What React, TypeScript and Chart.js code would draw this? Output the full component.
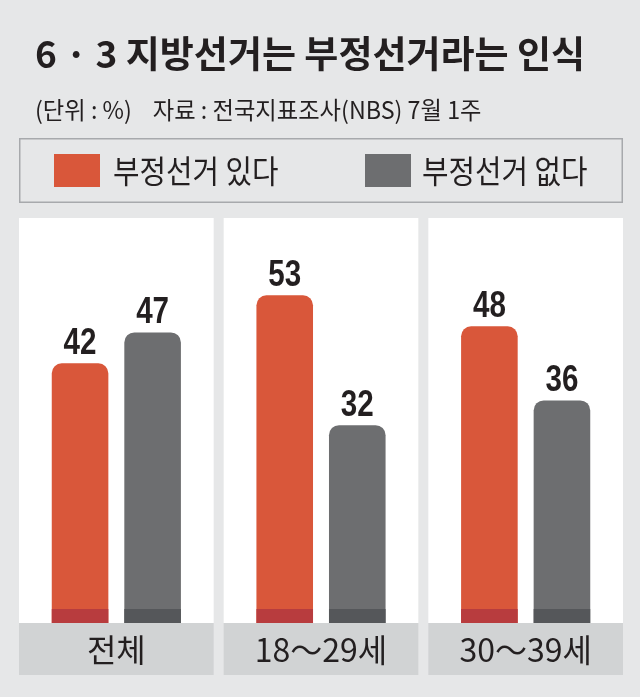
import React, { useEffect, useRef } from "react";
import { Chart, registerables } from "chart.js";

Chart.register(...registerables);

const TITLE = "6 · 3 지방선거는 부정선거라는 인식";
const SUBTITLE = "(단위 : %)    자료 : 전국지표조사(NBS) 7월 1주";
const categories = ["전체", "18～29세", "30～39세"];
const seriesNames = ["부정선거 있다", "부정선거 없다"];
const yesValues = [42, 53, 48];
const noValues = [47, 32, 36];

const BG = "#e6e7e8";
const TEXT = "#231f20";
const barColors = ["#d9573a", "#6d6e70"];
const barBaseColors = ["#b83c3e", "#55575a"];
const FONT_KR = '"Noto Sans CJK KR", "Noto Sans", sans-serif';

const decorPlugin = {
  id: "decor",
  beforeDraw(chart: any) {
    const { ctx, chartArea, scales } = chart;
    const x = scales.x;
    ctx.save();
    ctx.fillStyle = BG;
    ctx.fillRect(0, 0, chart.width, chart.height);
    const n = chart.data.labels.length;
    const catW = (chartArea.right - chartArea.left) / n;
    for (let i = 0; i < n; i++) {
      const cx = x.getPixelForValue(i);
      const l = cx - catW / 2 + 5;
      const w = catW - 10;
      ctx.fillStyle = "#ffffff";
      ctx.fillRect(l, chartArea.top, w, chartArea.bottom - chartArea.top);
      ctx.fillStyle = "#d1d3d4";
      ctx.fillRect(l, chartArea.bottom, w, x.bottom - chartArea.bottom);
    }
    // legend box
    const lx = chartArea.left + 5;
    const lw = chartArea.right - chartArea.left - 10;
    ctx.strokeStyle = "#a7a9ac";
    ctx.lineWidth = 1.5;
    ctx.strokeRect(lx + 0.75, 138.75, lw - 1.5, 63.5);
    const items = [
      { box: 54, text: 113 },
      { box: 365, text: 422 },
    ];
    chart.data.datasets.forEach((ds: any, i: number) => {
      const it = items[i];
      ctx.fillStyle = ds.backgroundColor;
      ctx.fillRect(it.box, 154, 46, 33);
      ctx.save();
      ctx.translate(it.text, 183);
      ctx.scale(0.9, 1);
      ctx.fillStyle = TEXT;
      ctx.font = `32px ${FONT_KR}`;
      ctx.textBaseline = "alphabetic";
      ctx.textAlign = "left";
      ctx.fillText(ds.label, 0, 0);
      ctx.restore();
    });
    ctx.restore();
  },
  afterDatasetsDraw(chart: any) {
    const { ctx } = chart;
    ctx.save();
    chart.data.datasets.forEach((ds: any, di: number) => {
      const meta = chart.getDatasetMeta(di);
      meta.data.forEach((bar: any, i: number) => {
        const p = bar.getProps(["x", "y", "base", "width"], true);
        ctx.fillStyle = barBaseColors[di];
        ctx.fillRect(p.x - p.width / 2, p.base - 14, p.width, 14);
        ctx.save();
        ctx.translate(p.x, p.y - 9);
        ctx.scale(0.8, 1);
        ctx.fillStyle = TEXT;
        ctx.font = `bold 37px "Liberation Sans", Arial, sans-serif`;
        ctx.textAlign = "center";
        ctx.textBaseline = "alphabetic";
        ctx.fillText(String(ds.data[i]), 0, 0);
        ctx.restore();
      });
    });
    ctx.restore();
  },
};

export default function App() {
  const ref = useRef<HTMLCanvasElement>(null);
  useEffect(() => {
    if (!ref.current) return;
    const chart = new Chart(ref.current, {
      type: "bar",
      data: {
        labels: categories,
        datasets: [
          {
            label: seriesNames[0],
            data: yesValues,
            backgroundColor: barColors[0],
            borderRadius: { topLeft: 10, topRight: 10, bottomLeft: 0, bottomRight: 0 },
            borderSkipped: false,
            categoryPercentage: 0.709,
            barPercentage: 0.78,
          },
          {
            label: seriesNames[1],
            data: noValues,
            backgroundColor: barColors[1],
            borderRadius: { topLeft: 10, topRight: 10, bottomLeft: 0, bottomRight: 0 },
            borderSkipped: false,
            categoryPercentage: 0.709,
            barPercentage: 0.78,
          },
        ],
      },
      options: {
        responsive: false,
        animation: false,
        layout: { padding: { top: 218, left: 14, right: 12, bottom: 22 } },
        scales: {
          y: { display: false, min: 0, max: 65.5 },
          x: {
            grid: { display: false, drawTicks: false },
            border: { display: false },
            ticks: {
              padding: 8,
              color: TEXT,
              font: { family: FONT_KR, size: 32 },
              maxRotation: 0,
              autoSkip: false,
            },
            afterFit: (s: any) => {
              s.height = 52;
            },
          },
        },
        plugins: {
          legend: { display: false },
          tooltip: { enabled: false },
          title: { display: false },
        },
      } as any,
      plugins: [decorPlugin],
    });
    return () => chart.destroy();
  }, []);

  return (
    <div style={{ position: "absolute", left: 0, top: 0, width: 640, height: 697, background: BG, overflow: "hidden" }}>
      <canvas ref={ref} width={640} height={697} style={{ position: "absolute", left: 0, top: 0 }} />
      <div
        style={{
          position: "absolute",
          left: 35,
          top: 27,
          fontFamily: FONT_KR,
          fontWeight: 700,
          fontSize: 37,
          lineHeight: "50px",
          color: TEXT,
          whiteSpace: "pre",
        }}
      >
        {TITLE}
      </div>
      <div
        style={{
          position: "absolute",
          left: 35,
          top: 93,
          fontFamily: FONT_KR,
          fontSize: 24,
          lineHeight: "32px",
          color: TEXT,
          whiteSpace: "pre",
          transformOrigin: "left center",
          transform: "scaleX(0.97)",
        }}
      >
        {SUBTITLE}
      </div>
    </div>
  );
}
